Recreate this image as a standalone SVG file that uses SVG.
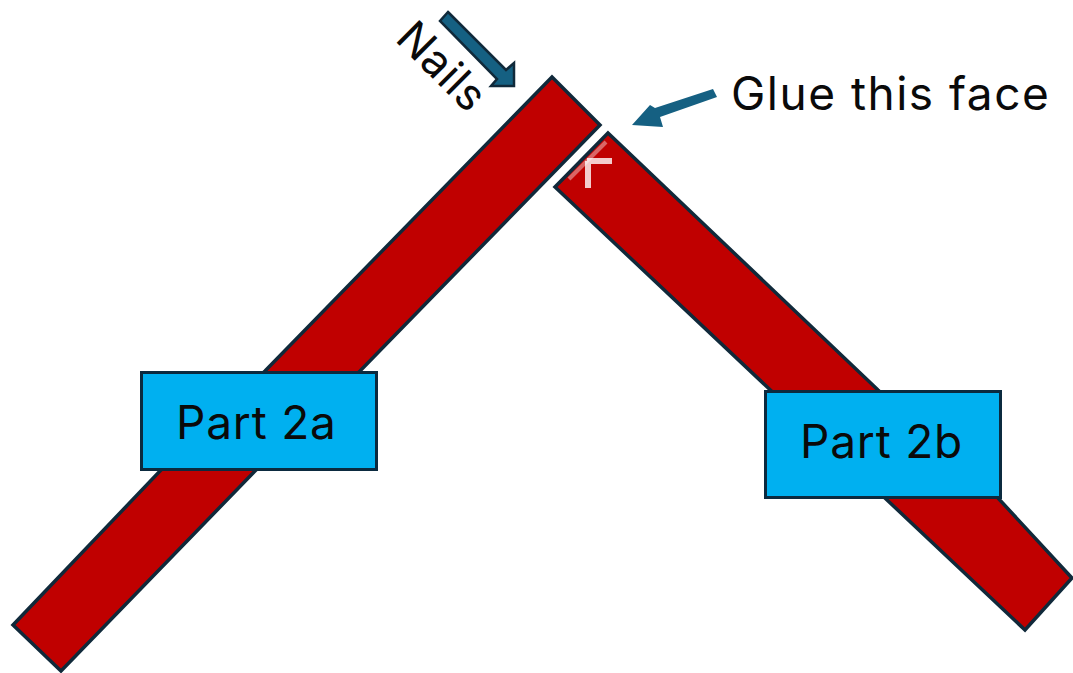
<svg xmlns="http://www.w3.org/2000/svg" width="1073" height="673" viewBox="0 0 1073 673">
<style>
.bar{fill:#c00000;stroke:#10293a;stroke-width:3.5;stroke-linejoin:miter}
.box{fill:#00b0f0;stroke:#0b2a3f;stroke-width:3}
text{font-family:Inter,"Noto Sans","Liberation Sans",sans-serif;fill:#0a0a0a;font-size:46px}
.part{letter-spacing:.8px}
.glue{letter-spacing:1.5px}
.nail{font-size:44px;letter-spacing:.6px}
.ar{fill:#156082}
.chev{fill:none;stroke:#fff;stroke-opacity:.8;stroke-width:6}
.chev2{fill:none;stroke:#fff;stroke-opacity:.4;stroke-width:4}
</style>
<rect width="1073" height="673" fill="#fff"/>
<g id="part2a-bar"><polygon class="bar" points="552,77 600,125 360,371 255,471 61,671 13,625 160,471 265,371"/></g>
<g id="part2b-bar"><polygon class="bar" points="608,133 878,390 998,498 1072,578 1025,630 555,187"/></g>
<g id="mark"><path class="chev" d="M612,161H587M588,161V188"/><path class="chev2" d="M569,179L606,142"/></g>
<g id="connectors">
<polygon class="ar" stroke="#10293a" stroke-width="2.5" points="448,12 506,70 514,63 514,86 491,86 497,79 440,21"/>
<polygon class="ar" points="713,89 717,97 660,117 663,127 632,125 650,105 655,108"/>
</g>
<g id="part2a"><rect class="box" x="141.5" y="372.5" width="235" height="97"/><text class="part" x="176" y="439">Part 2a</text></g>
<g id="part2b"><rect class="box" x="765.5" y="391.5" width="235" height="106"/><text class="part" x="800" y="458">Part 2b</text></g>
<g id="glue"><text class="glue" x="731" y="110">Glue this face</text></g>
<g id="nails"><text class="nail" transform="translate(394,40) rotate(45)">Nails</text></g>
</svg>
